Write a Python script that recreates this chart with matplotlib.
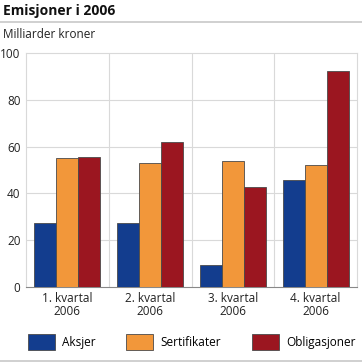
import matplotlib
matplotlib.use("Agg")
import matplotlib.pyplot as plt
import numpy as np
from matplotlib.lines import Line2D
from matplotlib.patches import Patch

categories = ["1. kvartal\n2006", "2. kvartal\n2006", "3. kvartal\n2006", "4. kvartal\n2006"]
series_names = ["Aksjer", "Sertifikater", "Obligasjoner"]
aksjer = [27.5, 27.5, 9.4, 45.7]
sertifikater = [55.0, 53.0, 54.0, 52.0]
obligasjoner = [55.7, 62.0, 42.9, 92.2]
colors = ["#133d8e", "#f2973a", "#9b1620"]
yticks = [0, 20, 40, 60, 80, 100]

plt.rcParams['font.family'] = ['Open Sans', 'DejaVu Sans']

W, H = 362, 363
fig = plt.figure(figsize=(W / 100, H / 100), dpi=100)
ax = fig.add_axes([26 / W, 1 - 287 / H, (357 - 26) / W, (287 - 53) / H])

x = np.arange(len(categories))
bw = 0.265
for i, (vals, c) in enumerate(zip([aksjer, sertifikater, obligasjoner], colors)):
    ax.bar(x + (i - 1) * bw, vals, width=bw, color=c, edgecolor="#4a4a4a",
           linewidth=0.6, zorder=3)

ax.set_xlim(-0.5, len(categories) - 0.5)
ax.set_ylim(0, 100)
ax.set_yticks(yticks)
ax.set_yticklabels([str(t) for t in yticks], fontsize=8.5, color="#222222")
ax.set_xticks(x)
ax.set_xticklabels(categories, fontsize=8.5, color="#222222", linespacing=1.05)
ax.tick_params(axis="both", length=0, pad=3.5)
ax.tick_params(axis="y", pad=4)
for k in range(1, 5):
    ax.axhline(k * 20, color="#d9d9d9", linewidth=0.8, zorder=1)
for k in range(1, len(categories)):
    ax.axvline(k - 0.5, color="#d9d9d9", linewidth=0.8, zorder=1)
for s in ["top", "right", "left"]:
    ax.spines[s].set_color("#d9d9d9")
    ax.spines[s].set_linewidth(0.8)
ax.spines["bottom"].set_color("#888888")
ax.spines["bottom"].set_linewidth(0.8)

fig.text(3 / W, 1 - 11 / H, "Emisjoner i 2006", fontsize=10, fontweight="bold",
         va="center", ha="left", color="#111111")
fig.add_artist(Line2D([0, 1], [1 - 21.5 / H, 1 - 21.5 / H], color="#c8c8c8", linewidth=1.2))
fig.add_artist(Line2D([0, 1], [1 - 360.5 / H, 1 - 360.5 / H], color="#c8c8c8", linewidth=1.2))
fig.text(3 / W, 1 - 34 / H, "Milliarder kroner", fontsize=8.5, va="center", ha="left",
         color="#222222")

handles = [Patch(facecolor=c, edgecolor="#4a4a4a", linewidth=0.6) for c in colors]
leg = fig.legend(handles, series_names, loc="center", bbox_to_anchor=(191.5 / W, 1 - 342 / H),
                 ncol=3, frameon=False, fontsize=8.5, handlelength=2.3, handleheight=1.6,
                 columnspacing=2.6, handletextpad=0.6, borderaxespad=0, borderpad=0)
fig.savefig("out.png", dpi=100)
